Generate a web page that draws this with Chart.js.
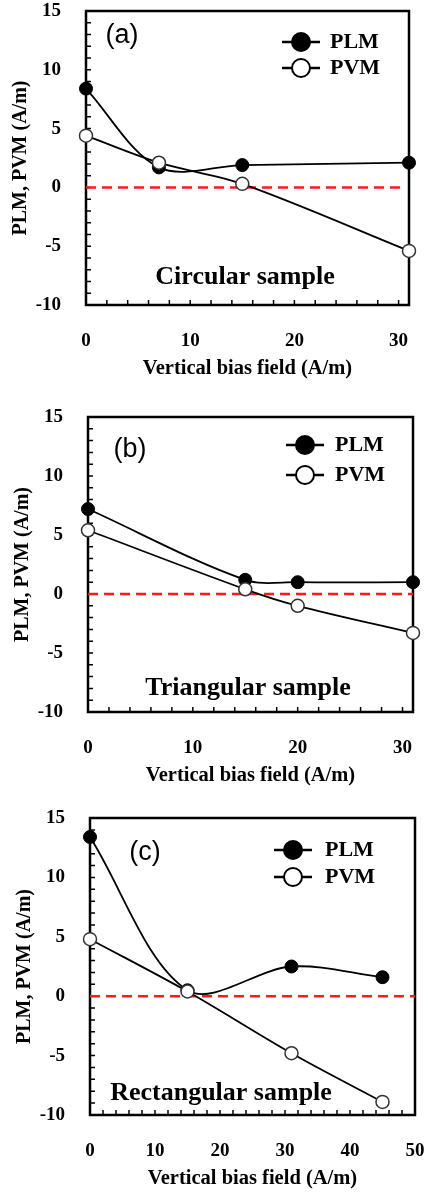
<!DOCTYPE html>
<html>
<head>
<meta charset="utf-8">
<script src="https://cdn.jsdelivr.net/npm/chart.js@4/dist/chart.umd.min.js"></script>
<style>
	body { margin: 0; background: #fff; }
	.panel { position: absolute; left: 0; width: 428px; }
</style>
</head>
<body>

<div class="panel" style="top:0px;height:395px"><canvas id="circular-chart" width="428" height="395"></canvas></div>
<div class="panel" style="top:395px;height:395px"><canvas id="triangular-chart" width="428" height="395"></canvas></div>
<div class="panel" style="top:790px;height:403px"><canvas id="rectangular-chart" width="428" height="403"></canvas></div>

<script>

	// vertical bias field (A/m) and measured PLM / PVM (A/m) per sample
	var circularField = [0, 7, 15, 31];
	var circularPLM = [8.4, 1.7, 1.9, 2.1];
	var circularPVM = [4.4, 2.1, 0.3, -5.4];

	var triangularField = [0, 15, 20, 31];
	var triangularPLM = [7.2, 1.2, 1.0, 1.0];
	var triangularPVM = [5.4, 0.4, -1.0, -3.3];

	var rectangularField = [0, 15, 31, 45];
	var rectangularPLM = [13.4, 0.5, 2.5, 1.6];
	var rectangularPVM = [4.8, 0.4, -4.8, -8.9];

	// zero reference line ends
	var zeroLineField = [0, 30.5];
	var zeroLineFieldWide = [0, 50];
	var zeroLineValue = [0, 0];

	// tick labels
	var yTicks = [-10, -5, 0, 5, 10, 15];
	var xTicks = [0, 10, 20, 30];
	var xTicksWide = [0, 10, 20, 30, 40, 50];

	var serif = "'Liberation Serif', 'Times New Roman', serif";

	function pairs(xs, ys) {
		var out = [];
		for (var i = 0; i < xs.length; i++) out.push({ x: xs[i], y: ys[i] });
		return out;
	}

	// frame, inward minor ticks, legend, panel tag and sample name
	var decorPlugin = {
		id: 'decor',
		beforeDatasetsDraw: function (chart, args, o) {
			var ctx = chart.ctx, a = chart.chartArea;
			var xs = chart.scales.x, ys = chart.scales.y;
			ctx.save();
			ctx.strokeStyle = '#000';
			ctx.lineWidth = 1.5;
			ctx.beginPath();
			for (var v = ys.min; v <= ys.max; v += 1) {
				var py = ys.getPixelForValue(v);
				ctx.moveTo(a.left, py);
				ctx.lineTo(a.left + 5, py);
			}
			for (var u = xs.min; u <= xs.max; u += 2) {
				var px = xs.getPixelForValue(u);
				ctx.moveTo(px, a.bottom);
				ctx.lineTo(px, a.bottom - 5);
			}
			ctx.stroke();
			ctx.lineWidth = 2.5;
			ctx.strokeRect(a.left, a.top, a.right - a.left, a.bottom - a.top);
			ctx.restore();
		},
		afterDraw: function (chart, args, o) {
			var ctx = chart.ctx, a = chart.chartArea;
			ctx.save();
			ctx.fillStyle = '#000';
			ctx.textBaseline = 'middle';

			// panel tag
			ctx.textAlign = 'center';
			ctx.font = "27px 'Liberation Sans', Arial, sans-serif";
			ctx.fillText(o.tag, a.left + o.tagX, a.top + o.tagY);

			// sample name
			ctx.font = 'bold 26px ' + serif;
			ctx.fillText(o.sample, a.left + o.sampleX, a.bottom - o.sampleY);

			// legend
			var cx = a.right - o.legendX;
			ctx.font = 'bold 22px ' + serif;
			ctx.textAlign = 'left';
			for (var i = 0; i < 2; i++) {
				var ds = chart.data.datasets[i];
				var cy = a.top + o.legendY[i];
				ctx.strokeStyle = '#000';
				ctx.lineWidth = 2.5;
				ctx.beginPath();
				ctx.moveTo(cx - 19, cy);
				ctx.lineTo(cx + 19, cy);
				ctx.stroke();
				ctx.beginPath();
				ctx.arc(cx, cy, 9, 0, Math.PI * 2);
				ctx.fillStyle = ds.pointBackgroundColor;
				ctx.fill();
				ctx.lineWidth = 2;
				ctx.strokeStyle = '#000';
				ctx.stroke();
				ctx.fillStyle = '#000';
				ctx.fillText(ds.label, cx + o.legendGap, cy);
			}
			ctx.restore();
		}
	};

	function makePanel(id, p) {
		var canvas = document.getElementById(id);
		var W = canvas.width, H = canvas.height, area = p.area;
		var xh = 76;
		return new Chart(canvas, {
			type: 'line',
			data: {
				datasets: [
					{
						label: 'PLM', data: pairs(p.field, p.plm),
						borderColor: '#000', borderWidth: 1.8, tension: 0.33,
						pointRadius: 6.5, pointBackgroundColor: '#000', pointBorderColor: '#000', pointBorderWidth: 1,
						clip: false, order: 1
					},
					{
						label: 'PVM', data: pairs(p.field, p.pvm),
						borderColor: '#000', borderWidth: 1.8, tension: 0.33,
						pointRadius: 6.5, pointBackgroundColor: '#fff', pointBorderColor: '#333', pointBorderWidth: 1.5,
						clip: false, order: 0
					},
					{
						label: 'zero', data: pairs(p.zeroX, zeroLineValue),
						borderColor: '#ff1a1a', borderWidth: 2.5, borderDash: [10, 6],
						pointRadius: 0, tension: 0, order: 2
					}
				]
			},
			options: {
				responsive: false,
				animation: false,
				events: [],
				layout: { padding: { left: 0, top: area.t, right: W - area.r, bottom: H - area.b - xh } },
				plugins: {
					legend: { display: false },
					tooltip: { enabled: false },
					decor: p.decor
				},
				scales: {
					x: {
						type: 'linear', min: 0, max: p.xMax,
						grid: { display: false }, border: { display: false },
						afterBuildTicks: function (s) { s.ticks = p.xTicks.map(function (v) { return { value: v }; }); },
						afterFit: function (s) { s.height = xh; s.paddingLeft = 0; s.paddingRight = 0; },
						ticks: { padding: 17, color: '#000', font: { family: serif, weight: 'bold', size: 19 } },
						title: {
							display: true, text: 'Vertical bias field (A/m)', color: '#000',
							padding: { top: 0, bottom: 0 },
							font: { family: serif, weight: 'bold', size: 20.5 }
						}
					},
					y: {
						min: -10, max: 15,
						grid: { display: false }, border: { display: false },
						afterBuildTicks: function (s) { s.ticks = yTicks.map(function (v) { return { value: v }; }); },
						afterFit: function (s) { s.width = area.l; s.paddingTop = 0; s.paddingBottom = 0; },
						ticks: { padding: 17, color: '#000', font: { family: serif, weight: 'bold', size: 19 } },
						title: {
							display: true, text: 'PLM, PVM (A/m)', color: '#000',
							padding: { top: area.l - 77, bottom: 0 },
							font: { family: serif, weight: 'bold', size: 20 }
						}
					}
				}
			},
			plugins: [decorPlugin]
		});
	}

	makePanel('circular-chart', {
		field: circularField, plm: circularPLM, pvm: circularPVM,
		zeroX: zeroLineField, xMax: 31, xTicks: xTicks,
		area: { l: 86, t: 11, r: 409, b: 305 },
		decor: { tag: '(a)', tagX: 36, tagY: 25, sample: 'Circular sample', sampleX: 159, sampleY: 28,
			legendX: 108, legendY: [31, 57], legendGap: 29 }
	});

	makePanel('triangular-chart', {
		field: triangularField, plm: triangularPLM, pvm: triangularPVM,
		zeroX: [0, 31], xMax: 31, xTicks: xTicks,
		area: { l: 88, t: 22, r: 413, b: 317 },
		decor: { tag: '(b)', tagX: 42, tagY: 33, sample: 'Triangular sample', sampleX: 160, sampleY: 24,
			legendX: 108, legendY: [28, 58], legendGap: 30 }
	});

	makePanel('rectangular-chart', {
		field: rectangularField, plm: rectangularPLM, pvm: rectangularPVM,
		zeroX: zeroLineFieldWide, xMax: 50, xTicks: xTicksWide,
		area: { l: 90, t: 28, r: 415, b: 325 },
		decor: { tag: '(c)', tagX: 55, tagY: 35, sample: 'Rectangular sample', sampleX: 131, sampleY: 22,
			legendX: 122, legendY: [32, 59], legendGap: 32 }
	});

</script>
</body>
</html>
